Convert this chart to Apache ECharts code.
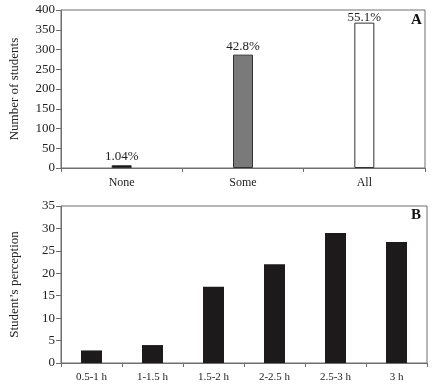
<!DOCTYPE html>
<html>
<head>
<meta charset="utf-8">
<script src="https://cdn.jsdelivr.net/npm/echarts@6/dist/echarts.min.js"></script>
<style>
  html, body { margin: 0; padding: 0; background: #fff; }
  #main { width: 445px; height: 388px; }
</style>
</head>
<body>
<div id="main"></div>
<script>
// panel A
var catsA = ['None', 'Some', 'All'];
var valsA = [7, 287, 368];
var pctA = ['1.04%', '42.8%', '55.1%'];
// panel B
var catsB = ['0.5-1 h', '1-1.5 h', '1.5-2 h', '2-2.5 h', '2.5-3 h', '3 h'];
var valsB = [2.8, 4, 17, 22, 29, 27];

var font = 'Liberation Serif';
var lineCol = '#6e6e6e';

var chart = echarts.init(document.getElementById('main'));

function yAxisBase(name, max, interval, gi) {
    return {
        type: 'value',
        gridIndex: gi,
        min: 0,
        max: max,
        interval: interval,
        name: name,
        nameLocation: 'middle',
        nameGap: 40,
        nameTextStyle: { fontFamily: font, fontSize: 13, color: '#222' },
        axisLine: { show: true, lineStyle: { color: lineCol, width: 1 } },
        axisTick: { show: true, length: 5, lineStyle: { color: lineCol } },
        axisLabel: { fontFamily: font, fontSize: 13, color: '#222', margin: 6 },
        splitLine: { show: false }
    };
}

function xAxisBase(data, gi, size) {
    return {
        type: 'category',
        gridIndex: gi,
        data: data,
        axisLine: { show: true, lineStyle: { color: lineCol, width: 1 } },
        axisTick: { show: true, length: 4, lineStyle: { color: lineCol } },
        axisLabel: { fontFamily: font, fontSize: size, color: '#222', margin: 9 }
    };
}

var option = {
    animation: false,
    grid: [
        { left: 60, right: 20, top: 10, height: 158, show: true, borderColor: lineCol, borderWidth: 1 },
        { left: 60, right: 18, top: 206, height: 157, show: true, borderColor: lineCol, borderWidth: 1 }
    ],
    xAxis: [xAxisBase(catsA, 0, 12), xAxisBase(catsB, 1, 11)],
    yAxis: [
        yAxisBase('Number of students', 400, 50, 0),
        yAxisBase('Student\u2019s perception', 35, 5, 1)
    ],
    graphic: [
        { type: 'text', left: 411, top: 13, style: { text: 'A', font: 'bold 15px "Liberation Serif"', fill: '#111' } },
        { type: 'text', left: 411, top: 208, style: { text: 'B', font: 'bold 15px "Liberation Serif"', fill: '#111' } }
    ],
    series: [
        {
            type: 'bar',
            xAxisIndex: 0,
            yAxisIndex: 0,
            barWidth: 20,
            data: valsA.map(function (v, i) {
                var colors = ['#161616', '#7a7a7a', '#ffffff'];
                return {
                    value: v,
                    itemStyle: { color: colors[i], borderColor: '#333', borderWidth: 1 },
                    label: { distance: i == 2 ? -1 : 2 }
                };
            }),
            label: {
                show: true,
                position: 'top',
                fontFamily: font,
                fontSize: 13,
                color: '#222',
                formatter: function (p) { return pctA[p.dataIndex]; }
            }
        },
        {
            type: 'bar',
            xAxisIndex: 1,
            yAxisIndex: 1,
            barWidth: 21,
            data: valsB,
            itemStyle: { color: '#1c1a1a' }
        }
    ]
};

chart.setOption(option);
</script>
</body>
</html>
